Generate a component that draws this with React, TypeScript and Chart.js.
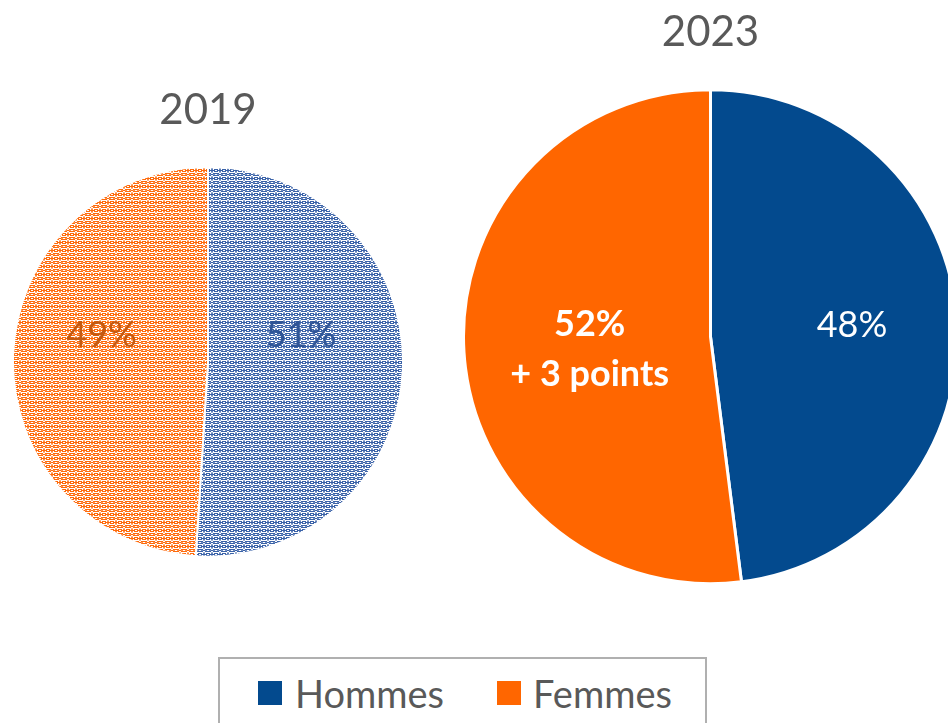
import React, { useEffect, useRef } from "react";
import { Chart, registerables } from "chart.js";

Chart.register(...registerables);

const categories = ["Hommes", "Femmes"];
const years = ["2019", "2023"];
const values2019 = [51, 49];
const values2023 = [48, 52];
const labels2019 = [["51%"], ["49%"]];
const labels2023 = [["48%"], ["52%", "+ 3 points"]];

const BLUE = "#034A8E";
const ORANGE = "#FF6600";
const TEXT_GREY = "#595959";
const FONT = "Lato, 'Open Sans', sans-serif";

function makePattern(color: string): CanvasPattern | string {
  const c = document.createElement("canvas");
  c.width = 16;
  c.height = 8;
  const g = c.getContext("2d");
  if (!g) return color;
  g.fillStyle = "#ffffff";
  g.fillRect(0, 0, 16, 8);
  g.fillStyle = color;
  const px = (x: number, y: number, a = 1) => {
    g.globalAlpha = a;
    g.fillRect(x, y, 1, 1);
  };
  for (const x of [1, 2, 3, 4, 5, 6, 9, 10, 11, 12, 13, 14]) {
    px(x, 0, 1);
    px(x, 2, 1);
  }
  for (const x of [0, 7, 8, 15]) px(x, 1, 1);
  for (const x of [1, 2, 5, 6, 9, 10, 13, 14]) px(x, 1, 0.7);
  for (const x of [2, 3, 4, 5, 10, 11, 12, 13]) {
    px(x, 4, 1);
    px(x, 6, 1);
  }
  for (const x of [1, 2, 5, 6, 9, 10, 13, 14]) px(x, 5, 1);
  for (const x of [0, 7, 8, 15]) {
    px(x, 3, 0.5);
    px(x, 4, 0.8);
    px(x, 5, 1);
    px(x, 6, 0.8);
    px(x, 7, 0.5);
  }
  g.globalAlpha = 1;
  const p = g.createPattern(c, "repeat");
  return p || color;
}

const sliceLabels = {
  id: "sliceLabels",
  afterDatasetsDraw(chart: any, _args: any, opts: any) {
    const meta = chart.getDatasetMeta(0);
    const ctx = chart.ctx;
    meta.data.forEach((arc: any, i: number) => {
      const { x, y, startAngle, endAngle, outerRadius } = arc.getProps(
        ["x", "y", "startAngle", "endAngle", "outerRadius"],
        true
      );
      const mid = (startAngle + endAngle) / 2;
      const r = outerRadius * opts.radius[i];
      const cx = x + Math.cos(mid) * r;
      const cy = y + Math.sin(mid) * r + opts.shift[i] * outerRadius;
      const lines: string[] = opts.texts[i];
      ctx.save();
      ctx.font = `${opts.bold[i] ? "bold " : ""}${opts.size}px ${FONT}`;
      ctx.fillStyle = opts.colors[i];
      ctx.textAlign = "center";
      ctx.textBaseline = "middle";
      lines.forEach((l, k) => {
        ctx.fillText(l, cx, cy + (k - (lines.length - 1) / 2) * opts.lineHeight);
      });
      ctx.restore();
    });
  },
};

function PieBox(props: {
  year: string;
  values: number[];
  colors: (string | CanvasPattern)[] | (() => (string | CanvasPattern)[]);
  borderWidth: number;
  labelOpts: any;
  titlePad: number;
  style: React.CSSProperties;
}) {
  const ref = useRef<HTMLCanvasElement | null>(null);
  useEffect(() => {
    if (!ref.current) return;
    const bg = typeof props.colors === "function" ? props.colors() : props.colors;
    const chart = new Chart(ref.current, {
      type: "pie",
      data: {
        labels: categories,
        datasets: [
          {
            data: props.values,
            backgroundColor: bg as any,
            borderColor: "#ffffff",
            borderWidth: props.borderWidth,
          },
        ],
      },
      options: {
        animation: false,
        responsive: false,
        maintainAspectRatio: false,
        layout: { padding: 0 },
        plugins: {
          legend: { display: false },
          tooltip: { enabled: false },
          title: {
            display: true,
            text: props.year,
            color: TEXT_GREY,
            font: { family: FONT, size: 42, weight: "normal", lineHeight: 1.2 },
            padding: { top: 0, bottom: props.titlePad },
          },
          sliceLabels: props.labelOpts,
        } as any,
      },
      plugins: [sliceLabels],
    });
    return () => chart.destroy();
  }, []);
  const w = props.style.width as number;
  const h = props.style.height as number;
  return <canvas ref={ref} width={w} height={h} style={{ position: "absolute", ...props.style }} />;
}

export default function App() {
  useEffect(() => {
    document.body.style.margin = "0";
  }, []);
  return (
    <div
      style={{
        position: "fixed",
        left: 0,
        top: 0,
        width: 948,
        height: 723,
        overflow: "hidden",
        background: "#ffffff",
        fontFamily: FONT,
      }}
    >
      <PieBox
        year={years[0]}
        values={values2019}
        colors={() => [makePattern("#3A62A8"), makePattern("#FF6A0A")]}
        borderWidth={2}
        titlePad={29}
        labelOpts={{
          texts: labels2019,
          colors: ["#2F5597", "#C55A11"],
          bold: [false, false],
          radius: [0.477, 0.546],
          shift: [-0.149, -0.117],
          size: 36,
          lineHeight: 50,
        }}
        style={{ left: 12, top: 85, width: 392, height: 474 }}
      />
      <PieBox
        year={years[1]}
        values={values2023}
        colors={[BLUE, ORANGE]}
        borderWidth={3}
        titlePad={25}
        labelOpts={{
          texts: labels2023,
          colors: ["#ffffff", "#ffffff"],
          bold: [false, true],
          radius: [0.574, 0.49],
          shift: [-0.01, 0.022],
          size: 36,
          lineHeight: 50,
        }}
        style={{ left: 462, top: 7, width: 497, height: 584 }}
      />
      <div
        style={{
          position: "absolute",
          left: 218,
          top: 657,
          width: 485,
          height: 90,
          border: "2px solid #B0B0B0",
        }}
      >
        {categories.map((c, i) => (
          <React.Fragment key={c}>
            <div
              style={{
                position: "absolute",
                left: i === 0 ? 38 : 277,
                top: 22,
                width: 24,
                height: 24,
                background: i === 0 ? BLUE : ORANGE,
              }}
            />
            <div
              style={{
                position: "absolute",
                left: i === 0 ? 75 : 313,
                top: 8,
                fontSize: 38,
                lineHeight: "52px",
                color: TEXT_GREY,
                whiteSpace: "nowrap",
              }}
            >
              {c}
            </div>
          </React.Fragment>
        ))}
      </div>
    </div>
  );
}
